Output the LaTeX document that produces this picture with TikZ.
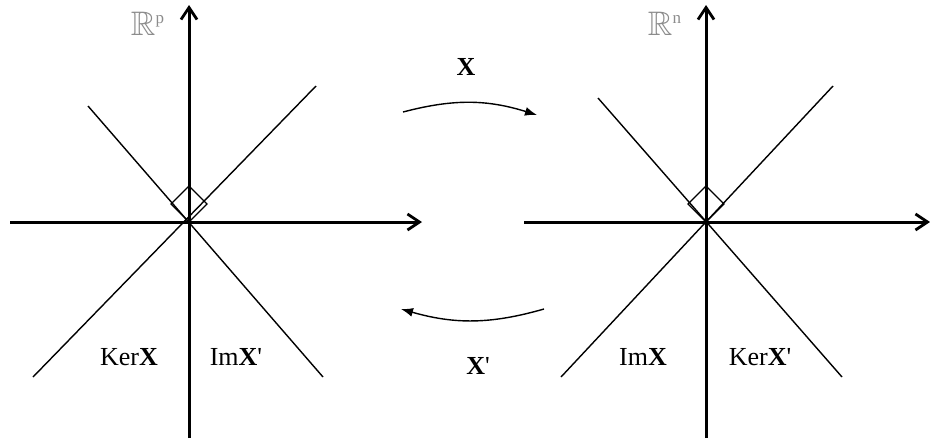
\documentclass[tikz,border=0pt]{standalone}
\usepackage{amsmath, amssymb}
\usepackage{fontspec}
\setmainfont{Liberation Serif}
\usetikzlibrary{arrows.meta, calc}
\definecolor{Ink}{HTML}{000000}
\definecolor{Soft}{HTML}{8C8C8C}
\tikzset{
    axis/.style={-{Straight Barb[length=6pt,width=8pt,line width=1.4pt]}, line width=1.5pt, color=Ink},
    subspace/.style={line width=0.7pt, color=Ink},
    rightmark/.style={line width=0.6pt, color=Ink},
    maparrow/.style={-{Latex[length=6pt,width=4.5pt]}, line width=0.7pt, color=Ink},
    spacelabel/.style={font=\fontsize{13}{15}\selectfont, text=Ink},
    spacename/.style={font=\fontsize{17}{19}\selectfont, text=Soft},
}

\begin{document}
\begin{tikzpicture}[x=0.5pt, y=-0.5pt]
    \useasboundingbox (0,0) rectangle (930,440);

    % Origini dei due spazi
    \coordinate (oL) at (189,222);
    \coordinate (oR) at (706,222);

    % Spazio di partenza R^p
    \draw[axis] (10,222) -- (422,222);
    \draw[axis] (189,438) -- (189,5);
    \draw[subspace] (33,377) -- (316,86);
    \draw[subspace] (88,106) -- (323,377);
    \draw[rightmark] (oL) -- ++(-18,-18) -- ++(18,-18) -- ++(18,18) -- cycle;
    \node[spacename] (Rp) at (148,24) {$\mathbb{R}^{\scriptscriptstyle\mathrm{p}}$};
    \node[spacelabel] (kerX) at (129,357) {Ker\textbf{X}};
    \node[spacelabel] (imXt) at (236,357) {Im\textbf{X}\textquotesingle};

    % Spazio di arrivo R^n
    \draw[axis] (524,222) -- (930,222);
    \draw[axis] (706,438) -- (706,5);
    \draw[subspace] (561,377) -- (833,86);
    \draw[subspace] (598,98) -- (842,377);
    \draw[rightmark] (oR) -- ++(-18,-18) -- ++(18,-18) -- ++(18,18) -- cycle;
    \node[spacename] (Rn) at (665,24) {$\mathbb{R}^{\scriptscriptstyle\mathrm{n}}$};
    \node[spacelabel] (imX) at (643,357) {Im\textbf{X}};
    \node[spacelabel] (kerXt) at (760,357) {Ker\textbf{X}\textquotesingle};

    % Applicazioni X e X'
    \coordinate (fS) at (403,112);
    \coordinate (fE) at (537,115);
    \coordinate (gS) at (544,309);
    \coordinate (gE) at (401,309);
    \draw[maparrow] (fS) to[bend left=16] (fE);
    \draw[maparrow] (gS) to[bend left=16] (gE);
    \node[spacelabel] (mapX) at (466,67) {\textbf{X}};
    \node[spacelabel] (mapXt) at (478,366) {\textbf{X}\textquotesingle};

\end{tikzpicture}
\end{document}
